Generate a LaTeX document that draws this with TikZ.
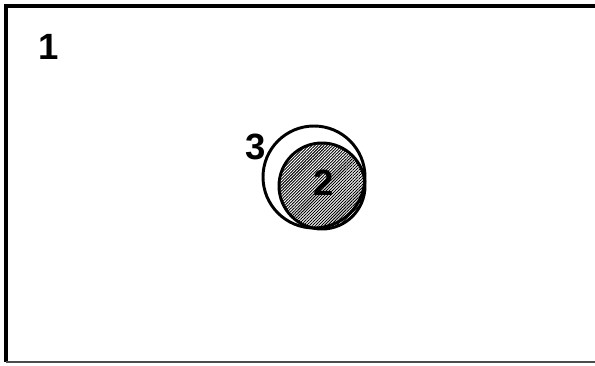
\documentclass[tikz,border=0pt]{standalone}
\usepackage{fontspec}
\setmainfont{Liberation Sans}
\usetikzlibrary{patterns.meta}

\begin{document}
\begin{tikzpicture}[
    x=0.05cm, y=-0.05cm,
    ring/.style={draw=black, line width=4.2pt},
    core/.style={ring, pattern={Lines[angle=45,distance=3pt,line width=1.3pt]}},
    num/.style={font=\fontsize{52}{58}\selectfont\bfseries, inner sep=0pt}
  ]
    \useasboundingbox (0,0) rectangle (595,365);
    % frame
    \draw[line width=4.4pt] (595,6) -- (6,6) -- (6,362);
    \draw[line width=2.6pt, draw=black!70] (6,362) -- (595,362);

    \node[num] (one) at (49,47) {1};

    \draw[ring] (314,177) circle (51);
    \draw[core] (322,186) circle (43);

    \node[num] (three) at (256,147) {3};
    \node[num] (two) at (323.5,182.5) {2};
  \end{tikzpicture}
\end{document}
